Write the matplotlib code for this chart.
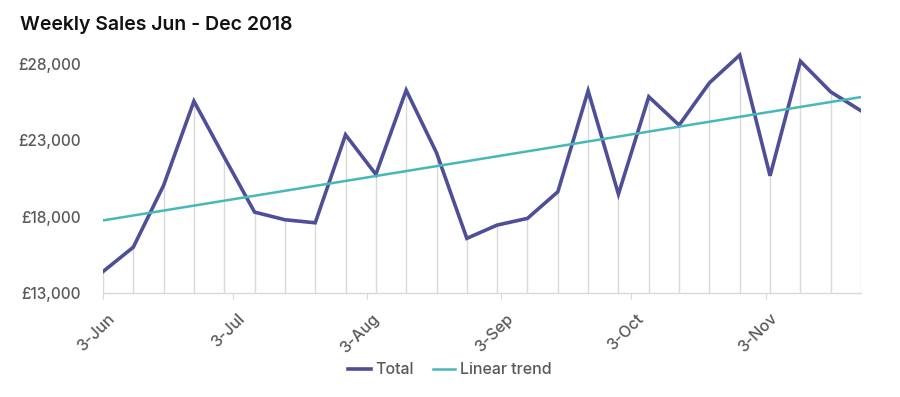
import matplotlib
matplotlib.use("Agg")
import matplotlib.pyplot as plt
import matplotlib.dates as mdates
import matplotlib.transforms as mtransforms
import numpy as np
import pandas as pd

plt.rcParams['font.family'] = ['Inter', 'DejaVu Sans']

week_dates = ["2018-06-03", "2018-06-10", "2018-06-17", "2018-06-24",
              "2018-07-01", "2018-07-08", "2018-07-15", "2018-07-22", "2018-07-29",
              "2018-08-05", "2018-08-12", "2018-08-19", "2018-08-26",
              "2018-09-02", "2018-09-09", "2018-09-16", "2018-09-23", "2018-09-30",
              "2018-10-07", "2018-10-14", "2018-10-21", "2018-10-28",
              "2018-11-04", "2018-11-11", "2018-11-18", "2018-11-25"]
total = [14400, 16000, 20050, 25570, 21900, 18300, 17800, 17600, 23370,
         20770, 26290, 22190, 16580, 17450, 17890, 19630, 26250, 19480,
         25860, 24000, 26770, 28590, 20680, 28190, 26180, 24940]
tick_dates = ["2018-06-03", "2018-07-03", "2018-08-03", "2018-09-03",
              "2018-10-03", "2018-11-03"]
y_ticks = [13000, 18000, 23000, 28000]
title = "Weekly Sales Jun - Dec 2018"
series_names = ["Total", "Linear trend"]

dates = pd.to_datetime(week_dates)
xnum = mdates.date2num(dates)
vals = np.array(total, dtype=float)

# linear trend fitted to the weekly totals (as Excel does, against point index)
idx = np.arange(len(vals))
coef = np.polyfit(idx, vals, 1)
trend = np.polyval(coef, idx)

fig = plt.figure(figsize=(9, 3.97), dpi=100)
ax = fig.add_axes([0.1144, 0.262, 0.9567 - 0.1144, 0.877 - 0.262])

ymin, ymax = 13000, 29000
ax.vlines(xnum, ymin, vals, color="#d9d9d9", lw=1, zorder=1)
l1, = ax.plot(xnum, vals, color="#4e4f96", lw=2.6, zorder=3,
              solid_joinstyle="miter")
l2, = ax.plot(xnum, trend, color="#46b8b8", lw=1.8, zorder=4)

ax.set_xlim(xnum[0], xnum[-1])
ax.set_ylim(ymin, ymax)
ax.set_yticks(y_ticks)
ax.set_yticklabels([f"£{v:,}" for v in y_ticks])
tnum = mdates.date2num(pd.to_datetime(tick_dates))
ax.set_xticks(tnum)
ax.set_xticklabels([f"{d.day}-{d.strftime('%b')}" for d in pd.to_datetime(tick_dates)],
                   rotation=45, ha="right", rotation_mode="anchor")

for s in ["top", "right", "left"]:
    ax.spines[s].set_visible(False)
ax.spines["bottom"].set_color("#d9d9d9")
ax.spines["bottom"].set_linewidth(1)
ax.tick_params(axis="y", length=0, pad=16, labelsize=11, labelcolor="#595959")
ax.tick_params(axis="x", length=4, color="#d9d9d9", pad=9, labelsize=11.5,
               labelcolor="#595959")
shift = mtransforms.ScaledTranslation(4 / 100, 0, fig.dpi_scale_trans)
for lab in ax.get_xticklabels():
    lab.set_fontweight("medium")
    lab.set_transform(lab.get_transform() + shift)
for lab in ax.get_yticklabels():
    lab.set_fontweight("medium")

fig.text(20 / 900, 1 - 25 / 397, title, fontsize=14, fontweight="semibold",
         color="#111111", ha="left", va="center")

fig.legend([l1, l2], series_names, loc="center", bbox_to_anchor=(0.5, 1 - 370 / 397),
           ncol=2, frameon=False, handlelength=1.4, handletextpad=0.3,
           columnspacing=1.2, labelcolor="#595959",
           prop={"size": 11.5, "weight": "medium"})

fig.savefig("out.png", dpi=100)
